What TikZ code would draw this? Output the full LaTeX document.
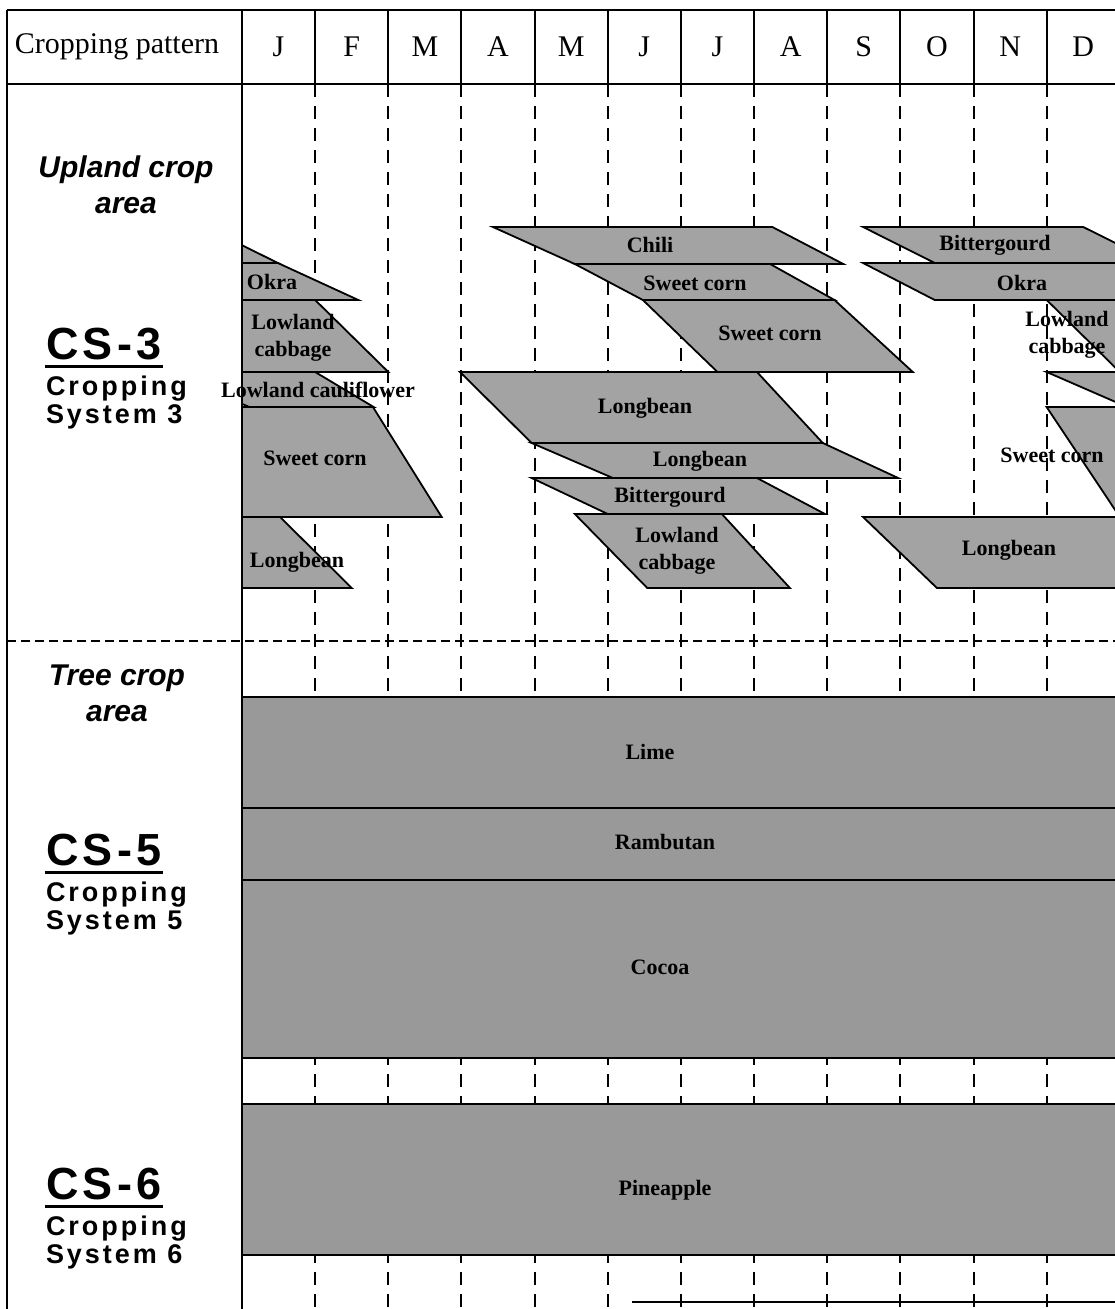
\documentclass[tikz,border=0pt]{standalone}
\usepackage{fontspec}
\setmainfont{Liberation Serif}
\setsansfont{Liberation Sans}
\newfontfamily\csfont[LetterSpace=10]{Liberation Sans}
\newfontfamily\sysfont[LetterSpace=11]{Liberation Sans}
\usetikzlibrary{calc}

\colorlet{cropgray}{black!36}
\colorlet{treegray}{black!40}

\begin{document}
\begin{tikzpicture}[x=1pt, y=-1pt, line width=2pt,
    crop/.style={draw=black, fill=cropgray, line width=1.8pt},
    tree/.style={draw=black, fill=treegray, line width=2pt},
    monthline/.style={line width=2pt, dash pattern=on 13pt off 9pt},
    arealine/.style={line width=2pt, dash pattern=on 9pt off 5pt},
    croplabel/.style={inner sep=0pt, align=center, font=\bfseries\fontsize{22}{27}\selectfont},
    treelabel/.style={inner sep=0pt, font=\bfseries\fontsize{22}{22}\selectfont},
    monthlabel/.style={inner sep=0pt, font=\fontsize{30}{30}\selectfont},
    areatext/.style={inner sep=0pt, align=center, font=\sffamily\bfseries\itshape\fontsize{30}{36}\selectfont},
    cstext/.style={inner sep=0pt, anchor=base west, font=\csfont\bfseries\fontsize{45}{45}\selectfont},
    systext/.style={inner sep=0pt, anchor=base west, font=\sysfont\bfseries\fontsize{27}{27}\selectfont}]

    \useasboundingbox (0,0) rectangle (1115,1309);

    \begin{scope}[xshift=242pt, x=73.15pt]
    % month grid
    \foreach \m in {1,...,11}
        \draw[monthline] (\m,84) -- (\m,1309);

    % upland crops inside the year
    \filldraw[crop] (3.43,227) -- (7.25,227) -- (8.22,264) -- (4.55,264) -- cycle;
    \filldraw[crop] (4.55,264) -- (7.22,264) -- (8.1,300) -- (5.48,300) -- cycle;
    \filldraw[crop] (5.48,300) -- (8.1,300) -- (9.17,372) -- (6.5,372) -- cycle;
    \filldraw[crop] (2.98,372) -- (7.04,372) -- (7.94,443) -- (3.96,443) -- cycle;
    \filldraw[crop] (3.96,443) -- (7.94,443) -- (8.97,478) -- (5.07,478) -- cycle;
    \filldraw[crop] (3.96,478) -- (7.04,478) -- (7.97,514) -- (5,514) -- cycle;
    \filldraw[crop] (4.55,514) -- (6.56,514) -- (7.49,588) -- (5.54,588) -- cycle;

    % upland crops over the turn of the year
    \begin{scope}
        \clip (0,84) rectangle (13,1309);
        \foreach \s in {0,-12} {
            \filldraw[crop] ({8.49+\s},227) -- ({11.5+\s},227) -- ({12.49+\s},263) -- ({9.47+\s},263) -- cycle;
            \filldraw[crop] ({8.49+\s},263) -- ({12.49+\s},263) -- ({13.59+\s},300) -- ({9.47+\s},300) -- cycle;
            \filldraw[crop] ({11+\s},300) -- ({13+\s},300) -- ({14+\s},372) -- ({12+\s},372) -- cycle;
            \filldraw[crop] ({11+\s},372) -- ({13+\s},372) -- ({13.8+\s},407) -- ({12.1+\s},407) -- cycle;
            \filldraw[crop] ({11+\s},407) -- ({13.79+\s},407) -- ({14.73+\s},517) -- ({12+\s},517) -- cycle;
            \filldraw[crop] ({8.49+\s},517) -- ({12.52+\s},517) -- ({13.5+\s},588) -- ({9.5+\s},588) -- cycle;
        }
    \end{scope}

    % tree crops
    \filldraw[tree] (0,697) rectangle (12,808);
    \filldraw[tree] (0,808) rectangle (12,880);
    \filldraw[tree] (0,880) rectangle (12,1058);
    \filldraw[tree] (0,1104) rectangle (12,1255);
    \draw (5.33,1302) -- (12,1302);

    % header
    \foreach \m in {0,...,11}
        \draw (\m,10) -- (\m,84);
    \draw (0,10) -- (0,1309);
    \foreach \lab [count=\i] in {J,F,M,A,M,J,J,A,S,O,N,D}
        \node[monthlabel] (month\i) at ({\i-0.5},47) {\lab};
    \end{scope}

    % frame
    \draw (7,10) -- (1121,10);
    \draw (7,84) -- (1121,84);
    \draw (7,10) -- (7,1309);
    \draw[arealine] (7,641) -- (1121,641);
    \node[monthlabel] (pattern) at (117,47) {Cropping pattern};

    % crop names
    \node[croplabel] (chili) at (650,245) {Chili};
    \node[croplabel] (sweetcornA) at (695,283) {Sweet corn};
    \node[croplabel] (sweetcornB) at (770,333) {Sweet corn};
    \node[croplabel] (longbeanA) at (645,408) {Longbean};
    \node[croplabel] (longbeanB) at (700,461) {Longbean};
    \node[croplabel] (bittergourdA) at (670,497) {Bittergourd};
    \node[croplabel] (cabbageA) at (677,551) {Lowland\\cabbage};
    \node[croplabel] (bittergourdR) at (995,245) {Bittergourd};
    \node[croplabel] (okraR) at (1022,283) {Okra};
    \node[croplabel] (cabbageR) at (1067,335) {Lowland\\cabbage};
    \node[croplabel] (sweetcornR) at (1052,455) {Sweet corn};
    \node[croplabel] (longbeanR) at (1009,550) {Longbean};
    \node[croplabel] (okraL) at (272,282) {Okra};
    \node[croplabel] (cabbageL) at (293,338) {Lowland\\cabbage};
    \node[croplabel] (cauliflower) at (318,390) {Lowland cauliflower};
    \node[croplabel] (sweetcornL) at (315,458) {Sweet corn};
    \node[croplabel] (longbeanL) at (297,562) {Longbean};
    \node[treelabel] (lime) at (650,752) {Lime};
    \node[treelabel] (rambutan) at (665,842) {Rambutan};
    \node[treelabel] (cocoa) at (660,967) {Cocoa};
    \node[treelabel] (pineapple) at (665,1190) {Pineapple};

    % cropping systems
    \node[areatext] (upland) at (126,185) {Upland crop\\area};
    \node[cstext] (cs3) at (45,359) {CS-3};
    \draw[line width=3pt] ([yshift=-7pt]cs3.base west) -- ([yshift=-7pt]cs3.base east);
    \node[systext] (cs3a) at (45,395) {Cropping};
    \node[systext] (cs3b) at (45,423) {System 3};

    \node[areatext] (treearea) at (117,693) {Tree crop\\area};
    \node[cstext] (cs5) at (45,865) {CS-5};
    \draw[line width=3pt] ([yshift=-7pt]cs5.base west) -- ([yshift=-7pt]cs5.base east);
    \node[systext] (cs5a) at (45,901) {Cropping};
    \node[systext] (cs5b) at (45,929) {System 5};

    \node[cstext] (cs6) at (45,1199) {CS-6};
    \draw[line width=3pt] ([yshift=-7pt]cs6.base west) -- ([yshift=-7pt]cs6.base east);
    \node[systext] (cs6a) at (45,1235) {Cropping};
    \node[systext] (cs6b) at (45,1263) {System 6};

\end{tikzpicture}
\end{document}
